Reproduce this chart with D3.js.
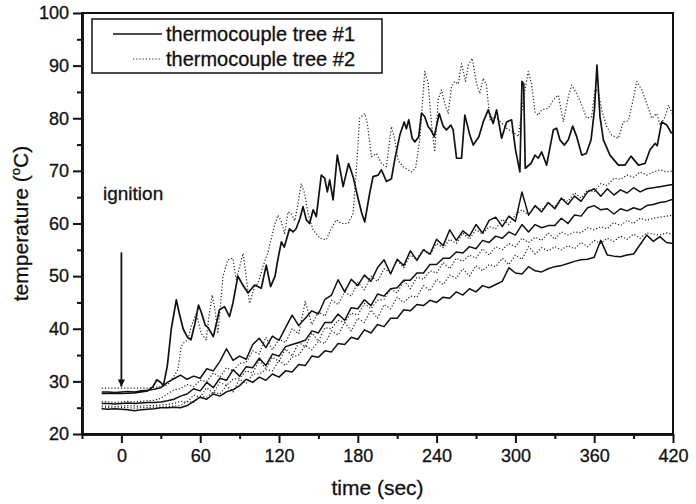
<!DOCTYPE html>
<html>
<head>
<meta charset="utf-8">
<script src="https://cdn.jsdelivr.net/npm/d3@7"></script>
<style>
body { margin: 0; background: #fff; }
text { font-family: "Liberation Sans", Arial, sans-serif; fill: #111; stroke: #111; stroke-width: 0.3; }
</style>
</head>
<body>
<script>
// top sensor of each tree at irregular times
const tree1TopTime = [-15, 0, 10, 20, 24, 27, 30, 32, 35, 38, 41.8, 44, 47, 50, 53, 56, 58.7, 61, 63.8, 66, 70, 74.7, 78.5, 82.3, 85, 88.7, 92, 96.4, 101.4, 106.5,
  110.3, 113.6, 117, 119, 121.8, 124, 128, 130.7, 133, 136, 138.3, 140.8, 143.3, 146, 148.4, 152.2, 154.8, 156.8, 158.6, 161.2, 164.4, 167.5, 168.8, 173, 176.4,
  180, 183, 185.3, 189, 191.6, 195.5, 198, 201.8, 205.6, 208.1, 212, 215.3, 217, 218.8, 221.4, 223.4, 226.4, 228.5, 231, 233.6, 235.6, 238.2, 242, 245, 247.5,
  250.8, 252.6, 255.2, 259, 261.5, 265.3, 267.9, 272.2, 275.5, 279.3, 283.1, 285.7, 289.5, 293.3, 297.1, 300.1, 303.4, 305, 306.3, 307.5, 311.8, 314.9, 317.4,
  320, 323.8, 328.9, 331.4, 333.9, 337.3, 340.3, 343.6, 346.7, 350.5, 354, 357.6, 360.2, 362.1, 364.4, 367, 372, 378.4, 383.5, 388, 393.7, 398.7, 402.5, 406.4,
  408, 411.4, 415.3, 419];
const tree1TopTemp = [27.7, 27.7, 27.8, 28.2, 29, 30.3, 29.8, 29.2, 33, 40, 45.5, 43, 40, 38.5, 37.9, 41, 44.5, 43, 40.7, 40.2, 38.5, 43.6, 44.2, 42.3, 45, 50, 48.5, 46.8, 48.3, 47.7,
  52.1, 48, 50, 53, 56.5, 55.5, 59, 58.4, 59, 61, 63.2, 60.7, 60, 62.6, 61.3, 69.2, 68.6, 66, 68.3, 64.5, 73, 68.9, 67, 71.4, 68.9,
  65, 62, 60.3, 65.7, 68.9, 69.2, 70.2, 68, 68.5, 72.1, 76.8, 79.3, 78, 79.7, 76.2, 75.5, 76.5, 81, 80.3, 78.4, 77.8, 76.5, 80.9, 78.5, 77.8,
  78.7, 77.8, 72.4, 72.4, 80.6, 76.8, 74.9, 76.5, 79.3, 81.6, 79, 81.6, 76.2, 79.3, 79.7, 74, 69.8, 87, 86.5, 70.5, 71.4, 73, 72.4,
  73.6, 71.1, 77.8, 78.1, 75.9, 74.9, 75.9, 78.5, 76.5, 73, 73.3, 75.9, 81.6, 90.1, 80.3, 75.9, 73, 71.1, 71.1, 72.8, 71.1, 71.4, 74, 75.2,
  74.8, 79.3, 78.7, 77.1];

const tree2TopTime = [-15, 0, 20, 30, 35, 40, 43, 45.5, 48, 50.6, 53.1, 57, 60.8, 64.6, 66.5, 69.1, 71, 73.5, 77.3, 81.1, 84.9, 87.4, 92.6, 95, 97.6, 101.4, 104, 108,
  111.6, 116.6, 119.2, 121.5, 124.3, 126.9, 129.4, 132, 134.5, 137, 139.5, 142.1, 145.9, 151, 156, 159.9, 163.7, 167.5, 172.6, 176.4, 178.9, 181.4, 185.3, 187.3,
  190.4, 194.2, 198, 201.8, 205.6, 208.1, 210.7, 214.5, 220.9, 224, 227.2, 231, 233.6, 236.1, 238.6, 241.2, 243.7, 246.2, 248.8, 251.3, 253.9, 256.5, 259, 262,
  264.1, 267.1, 270.4, 272.9, 275.5, 278, 280.6, 284.4, 288, 293.3, 299.6, 302.2, 306, 309.8, 312.3, 314.9, 317.4, 320, 325.1, 328.9, 332.7, 336.5, 340.3, 342.8,
  346.7, 350.5, 354.3, 358.1, 360.6, 363, 365.7, 369.5, 373.3, 378.4, 382.2, 386, 389.9, 392.4, 396.2, 400, 403.8, 407.6, 410.2, 414, 416.6, 420];
const tree2TopTemp = [28.7, 28.7, 28.7, 29, 29.3, 31, 32.2, 36.6, 37.5, 37.9, 40.4, 42.9, 39.1, 37.9, 42, 46.4, 44, 39.1, 49.9, 53.1, 53.4, 49.3, 54.3, 49.9, 44.8, 48, 48.6, 52,
  54.5, 59.7, 61.6, 60.5, 58.1, 62.2, 61.9, 60.5, 63.8, 67.6, 65.7, 61.9, 58.8, 57.2, 56.9, 59.1, 60.7, 60, 60, 61.9, 70.2, 80, 80.9, 79,
  72.7, 73.3, 71.4, 70.8, 78.4, 76, 72, 70.8, 69.8, 70.5, 75.9, 88.9, 86.6, 79, 73.6, 83.5, 85.4, 82.8, 80.9, 86, 87, 86.5, 90.4, 87,
  90.1, 91.4, 86.6, 84.7, 87.6, 86.3, 79.7, 80.3, 79.5, 78.1, 77.1, 76.5, 83.5, 88.9, 86.6, 81.2, 80.6, 81.6, 81.9, 83.5, 84.4, 79.3, 84.1, 86.3,
  84.7, 82.5, 80, 80.3, 85.4, 85.2, 81.6, 78.4, 76.8, 76.2, 79.3, 79.5, 83.8, 87, 85.4, 82.8, 80, 80.9, 78.7, 80.3, 82.5, 80.6];

// lower sensors, one reading every 5 s
const time = [-15, -10, -5, 0, 5, 10, 15, 20, 25, 30, 35, 40,
  45, 50, 55, 60, 65, 70, 75, 80, 85, 90, 95, 100,
  105, 110, 115, 120, 125, 130, 135, 140, 145, 150, 155, 160,
  165, 170, 175, 180, 185, 190, 195, 200, 205, 210, 215, 220,
  225, 230, 235, 240, 245, 250, 255, 260, 265, 270, 275, 280,
  285, 290, 295, 300, 305, 310, 315, 320, 325, 330, 335, 340,
  345, 350, 355, 360, 365, 370, 375, 380, 385, 390, 395, 400,
  405, 410, 415, 420];

const tree1B = [28.0, 28.0, 27.9, 28.0, 28.1, 28.0, 28.2, 28.3, 28.5, 28.8, 29.8, 30.5,
  31.2, 30.4, 31.0, 30.6, 32.4, 32.0, 33.8, 36.2, 34.0, 34.8, 34.2, 37.0,
  38.2, 36.4, 38.6, 37.8, 40.2, 42.6, 40.6, 42.0, 43.4, 42.8, 45.6, 46.4,
  49.3, 47.0, 49.4, 48.2, 50.2, 49.0, 51.6, 53.1, 50.4, 53.2, 52.0, 54.8,
  53.0, 55.0, 54.2, 57.0, 55.8, 58.8, 56.8, 58.6, 57.6, 59.8, 58.2, 60.6,
  61.2, 59.4, 61.4, 60.4, 66.0, 61.6, 63.4, 62.2, 64.0, 62.8, 64.8, 63.6,
  65.2, 64.2, 66.0, 66.6, 65.2, 66.6, 65.4, 66.4, 65.8, 66.8, 66.0, 66.6,
  66.8, 67.0, 67.2, 67.4];
const tree1C = [25.8, 25.8, 25.7, 25.8, 25.9, 25.8, 25.9, 26.0, 26.0, 26.1, 26.3, 26.6,
  27.2, 27.6, 28.6, 28.2, 29.8, 28.8, 30.6, 30.2, 32.2, 31.0, 32.8, 32.6,
  34.4, 33.0, 35.2, 34.8, 36.6, 37.0, 37.4, 37.8, 39.6, 39.2, 41.2, 41.2,
  42.8, 41.6, 44.0, 43.8, 45.5, 44.4, 46.6, 46.2, 47.6, 47.8, 49.2, 49.2,
  50.6, 50.6, 52.2, 52.2, 53.4, 53.4, 54.6, 54.4, 55.6, 55.2, 56.8, 56.4,
  57.6, 57.2, 58.4, 57.8, 59.8, 58.4, 59.8, 59.2, 59.6, 59.6, 61.0, 60.0,
  61.6, 61.4, 63.0, 63.4, 62.6, 62.8, 61.8, 62.8, 62.4, 63.0, 62.6, 63.4,
  63.6, 64.0, 64.2, 64.6];
const tree1D = [24.8, 24.7, 24.8, 24.7, 24.6, 24.4, 24.6, 24.7, 24.8, 25.0, 25.0, 25.1,
  25.0, 25.4, 26.2, 27.0, 26.6, 27.6, 27.2, 28.0, 28.4, 29.2, 30.4, 29.8,
  30.8, 30.2, 31.4, 30.8, 32.0, 31.8, 33.2, 33.0, 34.8, 34.6, 35.8, 35.6,
  37.2, 37.0, 38.4, 38.0, 39.8, 39.2, 40.8, 40.4, 42.0, 42.0, 43.6, 43.4,
  44.6, 44.4, 45.4, 45.0, 46.0, 45.8, 47.0, 46.4, 47.6, 47.0, 48.2, 47.8,
  48.4, 49.0, 51.6, 50.6, 50.4, 51.8, 51.0, 50.8, 51.4, 51.8, 52.0, 52.4,
  52.8, 53.1, 53.2, 53.6, 56.8, 54.0, 53.8, 53.7, 54.0, 54.2, 56.0, 57.8,
  56.6, 57.5, 56.4, 56.2];

const tree2B = [26.1, 26.1, 26.0, 26.1, 26.2, 26.1, 26.2, 26.3, 26.4, 26.8, 27.6, 28.4,
  28.6, 29.4, 29.0, 30.2, 30.0, 31.6, 30.8, 32.6, 32.0, 33.4, 33.6, 35.8,
  35.2, 38.4, 36.0, 38.0, 37.4, 40.0, 39.0, 45.2, 40.8, 43.2, 42.4, 45.4,
  44.6, 47.0, 46.2, 48.8, 47.4, 50.0, 49.0, 51.4, 50.6, 53.0, 51.6, 54.0,
  53.2, 55.2, 54.0, 56.2, 55.4, 57.0, 56.2, 58.2, 57.0, 58.8, 58.0, 59.4,
  59.0, 60.8, 59.8, 61.6, 62.6, 61.6, 63.2, 62.6, 63.8, 63.2, 64.8, 64.2,
  65.8, 64.8, 66.4, 66.0, 67.6, 67.2, 68.6, 68.4, 69.2, 68.8, 69.8, 69.2,
  69.8, 70.2, 69.8, 70.0];
const tree2C = [25.3, 25.3, 25.2, 25.3, 25.4, 25.3, 25.3, 25.4, 25.4, 25.5, 25.6, 25.8,
  26.2, 26.0, 27.4, 27.0, 28.8, 27.8, 29.8, 29.2, 30.4, 30.6, 32.0, 31.6,
  34.0, 32.4, 34.6, 33.8, 36.2, 34.8, 37.4, 36.6, 39.2, 37.6, 40.2, 40.0,
  41.6, 41.2, 43.0, 42.6, 44.8, 43.8, 45.4, 45.6, 47.6, 46.8, 49.2, 47.6,
  49.8, 49.4, 51.0, 50.6, 52.6, 51.4, 53.4, 52.8, 54.0, 53.4, 55.2, 54.0,
  55.6, 55.0, 56.2, 55.6, 57.2, 56.4, 57.4, 56.8, 58.2, 57.0, 58.4, 57.8,
  58.4, 58.2, 59.2, 58.8, 59.4, 59.0, 60.2, 59.6, 60.6, 60.0, 61.0, 60.6,
  61.0, 61.2, 61.4, 61.6];
const tree2D = [24.9, 25.0, 24.9, 25.0, 25.0, 24.9, 25.0, 25.0, 25.1, 25.1, 25.2, 25.3,
  25.4, 26.2, 26.0, 27.2, 27.0, 28.0, 27.6, 29.2, 28.0, 30.4, 29.6, 31.4,
  31.4, 32.2, 32.0, 34.0, 33.0, 34.6, 35.0, 36.8, 36.0, 37.6, 37.2, 39.6,
  38.8, 41.2, 39.6, 42.0, 41.2, 43.6, 42.0, 44.6, 43.8, 46.0, 45.0, 46.2,
  46.0, 48.2, 47.2, 49.4, 48.4, 50.2, 49.6, 51.4, 50.0, 52.0, 51.0, 52.2,
  51.8, 53.4, 52.2, 54.0, 53.2, 55.6, 54.2, 55.4, 54.8, 55.6, 55.0, 55.8,
  55.2, 56.4, 55.6, 56.8, 56.2, 57.2, 56.6, 57.6, 57.0, 58.0, 57.2, 58.2,
  58.0, 57.8, 58.2, 58.0];

const xMajor = [0, 60, 120, 180, 240, 300, 360, 420];
const xMinor = [-30, 30, 90, 150, 210, 270, 330, 390];
const yMajor = [20, 30, 40, 50, 60, 70, 80, 90, 100];
const yMinor = [25, 35, 45, 55, 65, 75, 85, 95];
const legendLabels = ['thermocouple tree #1', 'thermocouple tree #2'];

const W = 696, H = 504;
const M = {top: 13, right: 23, bottom: 70, left: 82};

const svg = d3.select('body').append('svg')
  .attr('width', W).attr('height', H);

const x = d3.scaleLinear().domain([-30, 420]).range([M.left, W - M.right]);
const y = d3.scaleLinear().domain([20, 100]).range([H - M.bottom, M.top]);

function pairs(ts, vs) {
  return ts.map((t, i) => [t, vs[i]]);
}
const line = d3.line().x(d => x(d[0])).y(d => y(d[1]));

const SOLID = {stroke: '#111', width: 1.5, dash: null};
const DOTTED = {stroke: '#222', width: 1.2, dash: '1.2,2'};

const series = [
  {d: pairs(time, tree2B), s: DOTTED},
  {d: pairs(time, tree2C), s: DOTTED},
  {d: pairs(time, tree2D), s: DOTTED},
  {d: pairs(time, tree1B), s: SOLID},
  {d: pairs(time, tree1C), s: SOLID},
  {d: pairs(time, tree1D), s: SOLID},
  {d: pairs(tree2TopTime, tree2TopTemp), s: DOTTED},
  {d: pairs(tree1TopTime, tree1TopTemp), s: {stroke: '#111', width: 1.7, dash: null}}
];

svg.append('g').selectAll('path')
  .data(series)
  .enter().append('path')
  .attr('d', d => line(d.d))
  .attr('fill', 'none')
  .attr('stroke', d => d.s.stroke)
  .attr('stroke-width', d => d.s.width)
  .attr('stroke-dasharray', d => d.s.dash)
  .attr('stroke-linejoin', 'round');

// frame
svg.append('rect')
  .attr('x', M.left).attr('y', M.top)
  .attr('width', W - M.left - M.right).attr('height', H - M.top - M.bottom)
  .attr('fill', 'none').attr('stroke', '#111').attr('stroke-width', 2);

// axes
svg.append('g')
  .attr('transform', 'translate(0,' + (H - M.bottom) + ')')
  .call(d3.axisBottom(x).tickValues(xMajor).tickSize(9).tickSizeOuter(0).tickPadding(6));
svg.append('g')
  .attr('transform', 'translate(0,' + (H - M.bottom) + ')')
  .call(d3.axisBottom(x).tickValues(xMinor).tickSize(5).tickSizeOuter(0).tickFormat(''));
svg.append('g')
  .attr('transform', 'translate(' + M.left + ',0)')
  .call(d3.axisLeft(y).tickValues(yMajor).tickSize(9).tickSizeOuter(0).tickPadding(4));
svg.append('g')
  .attr('transform', 'translate(' + M.left + ',0)')
  .call(d3.axisLeft(y).tickValues(yMinor).tickSize(5).tickSizeOuter(0).tickFormat(''));

svg.selectAll('.domain').attr('stroke', '#111').attr('stroke-width', 2.5);
svg.selectAll('.tick line').attr('stroke', '#111').attr('stroke-width', 2);
svg.selectAll('.tick text')
  .attr('font-size', 18)
  .attr('font-family', '"Liberation Sans", Arial, sans-serif')
  .attr('fill', '#111');

// axis titles
svg.append('text')
  .attr('x', (M.left + W - M.right) / 2).attr('y', 495)
  .attr('text-anchor', 'middle').attr('font-size', 21)
  .text('time (sec)');

const yt = svg.append('text')
  .attr('transform', 'translate(28,' + ((M.top + H - M.bottom) / 2) + ') rotate(-90)')
  .attr('text-anchor', 'middle').attr('font-size', 21);
yt.append('tspan').text('temperature (');
yt.append('tspan').attr('font-size', 13).attr('dy', -8).text('o');
yt.append('tspan').attr('dy', 8).text('C)');

// legend
const lg = svg.append('g');
lg.append('rect')
  .attr('x', 92).attr('y', 19).attr('width', 290).attr('height', 54)
  .attr('fill', '#fff').attr('stroke', '#111').attr('stroke-width', 1.5);
lg.append('line').attr('x1', 113).attr('x2', 162).attr('y1', 34).attr('y2', 34)
  .attr('stroke', SOLID.stroke).attr('stroke-width', 1.6);
lg.append('line').attr('x1', 133).attr('x2', 162).attr('y1', 59).attr('y2', 59)
  .attr('stroke', DOTTED.stroke).attr('stroke-width', 1.2).attr('stroke-dasharray', DOTTED.dash);
lg.selectAll('text.lab')
  .data(legendLabels)
  .enter().append('text')
  .attr('class', 'lab')
  .attr('x', 166).attr('y', (d, i) => 41 + i * 25)
  .attr('font-size', 20)
  .text(d => d);

// ignition annotation
svg.append('text')
  .attr('x', 103).attr('y', 200)
  .attr('font-size', 19)
  .text('ignition');
svg.append('defs').append('marker')
  .attr('id', 'head').attr('viewBox', '0 0 10 10')
  .attr('refX', 10).attr('refY', 5)
  .attr('markerWidth', 4).attr('markerHeight', 5)
  .attr('markerUnits', 'strokeWidth')
  .attr('orient', 'auto')
  .append('path').attr('d', 'M0,0 L10,5 L0,10 Z').attr('fill', '#111');
svg.append('line')
  .attr('x1', x(0)).attr('x2', x(0))
  .attr('y1', y(54.5)).attr('y2', y(29))
  .attr('stroke', '#111').attr('stroke-width', 1.8)
  .attr('marker-end', 'url(#head)');
</script>
</body>
</html>
